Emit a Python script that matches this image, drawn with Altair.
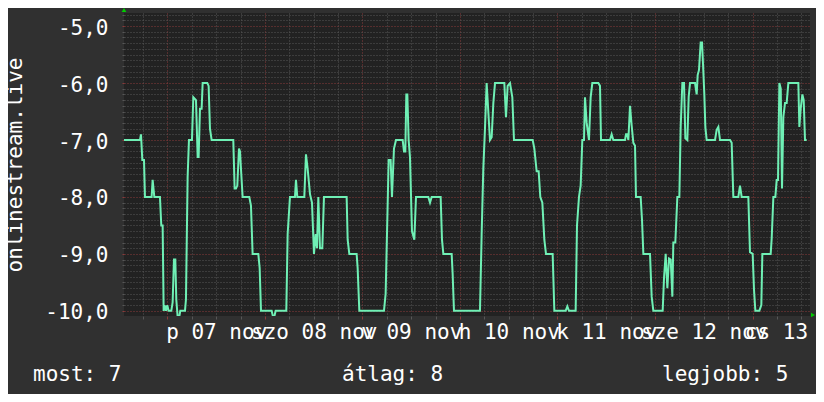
import altair as alt
import pandas as pd

# hours relative to Nov 07 00:00
hours = [
    -10.71, -6.77, -6.52, -6.19, -5.78, -5.54, -3.90, -3.65, -3.24, -1.85,
    -1.52, -1.19, -0.94, -0.70, -0.37, -0.04, 0.29, 0.94, 1.27, 1.60,
    1.93, 2.17, 2.50, 2.91, 3.16, 4.31, 4.55, 4.96, 5.29, 6.03,
    6.36, 7.02, 7.43, 7.67, 8.00, 8.41, 8.66, 9.80, 10.13, 10.46,
    10.87, 16.20, 16.53, 16.86, 17.19, 17.60, 17.85, 18.17, 18.50, 20.14,
    20.55, 20.96, 22.36, 22.69, 23.02, 25.64, 25.97, 26.30, 26.63, 29.25,
    29.58, 30.15, 31.38, 31.63, 31.96, 33.68, 34.09, 34.50, 35.08, 35.57,
    36.06, 36.47, 36.80, 37.13, 37.54, 38.11, 38.52, 44.10, 44.35, 44.76,
    46.56, 46.81, 47.22, 53.29, 53.70, 54.11, 54.44, 54.93, 55.26, 55.75,
    56.25, 57.89, 58.22, 58.54, 58.79, 59.04, 59.36, 59.69, 60.18, 60.76,
    61.17, 64.20, 64.62, 65.03, 67.24, 67.57, 67.90, 69.95, 70.19, 70.52,
    76.92, 77.33, 77.74, 78.15, 78.56, 78.97, 79.38, 79.80, 80.21, 80.62,
    82.91, 83.32, 83.73, 84.31, 84.88, 85.29, 89.89, 90.30, 90.87, 91.36,
    91.77, 92.27, 92.76, 93.17, 94.81, 95.22, 98.01, 98.42, 98.83, 100.47,
    100.80, 101.29, 101.70, 102.11, 102.52, 102.77, 103.18, 103.75, 104.16, 104.57,
    106.05, 106.46, 106.71, 108.92, 109.33, 109.74, 112.62, 112.86, 113.19, 113.44,
    113.85, 114.26, 114.67, 115.08, 115.32, 116.47, 116.80, 117.13, 118.77, 119.18,
    119.59, 121.89, 122.22, 122.63, 123.04, 123.45, 123.86, 124.27, 124.51, 125.00,
    125.50, 125.99, 126.32, 126.73, 127.14, 127.47, 127.96, 128.29, 128.62, 129.85,
    130.26, 130.50, 130.83, 131.24, 131.57, 131.82, 132.14, 132.39, 132.72, 134.77,
    135.18, 135.59, 136.00, 138.46, 138.87, 139.28, 140.51, 140.92, 141.33, 142.97,
    143.38, 144.04, 144.37, 144.70, 145.68, 146.17, 146.42, 148.47, 148.72, 149.13,
    149.62, 149.95, 150.28, 150.61, 150.95, 151.26, 151.59, 152.00, 152.41, 152.82,
    155.28, 155.53, 155.86, 156.27, 156.60, 156.92, 157.33,
]
values = [
    -7.0, -7.0, -6.9, -7.35, -7.35, -8.0, -8.0, -7.7, -8.0, -8.0,
    -8.5, -8.5, -10.0, -9.9, -10.0, -9.9, -10.0, -10.0, -9.85, -9.1,
    -9.1, -9.8, -10.1, -10.1, -10.0, -10.0, -9.8, -7.65, -7.0, -7.0,
    -6.25, -6.3, -7.3, -7.3, -6.45, -6.45, -6.0, -6.0, -6.05, -6.8,
    -7.0, -7.0, -7.85, -7.85, -7.8, -7.15, -7.2, -7.6, -8.0, -8.0,
    -8.15, -9.0, -9.0, -9.25, -10.0, -10.0, -10.1, -10.1, -10.0, -10.0,
    -8.65, -8.0, -8.0, -7.7, -8.0, -8.0, -7.25, -7.5, -7.95, -8.1,
    -9.0, -8.65, -8.9, -8.0, -8.9, -8.9, -8.0, -8.0, -8.75, -9.0,
    -9.0, -9.25, -10.0, -10.0, -9.7, -8.4, -7.35, -7.35, -8.0, -7.15,
    -7.0, -7.0, -7.2, -7.2, -6.2, -6.2, -7.0, -7.3, -8.6, -8.75,
    -8.0, -8.0, -8.1, -8.0, -8.0, -8.75, -9.0, -9.0, -9.35, -10.0,
    -10.0, -8.65, -7.5, -6.8, -6.0, -6.5, -7.0, -6.95, -6.35, -6.0,
    -6.0, -6.6, -6.05, -6.0, -6.25, -7.0, -7.0, -7.15, -7.55, -7.55,
    -8.0, -8.1, -8.75, -9.0, -9.0, -10.0, -10.0, -9.92, -10.0, -10.0,
    -8.5, -8.0, -7.8, -7.0, -7.0, -6.25, -6.7, -7.0, -6.25, -6.0,
    -6.0, -6.05, -7.0, -7.0, -6.9, -7.0, -7.0, -6.9, -6.9, -7.0,
    -6.4, -6.75, -7.05, -7.1, -8.0, -8.0, -8.4, -9.0, -9.0, -9.75,
    -10.0, -10.0, -9.42, -9.0, -9.6, -9.08, -9.1, -9.75, -8.8, -8.8,
    -8.0, -8.0, -6.77, -6.0, -6.0, -6.97, -7.0, -6.24, -6.0, -6.0,
    -6.2, -5.86, -5.77, -5.29, -5.29, -5.67, -6.2, -6.77, -7.0, -7.0,
    -6.82, -6.77, -7.0, -7.0, -7.05, -8.0, -8.0, -7.8, -8.0, -8.0,
    -8.97, -9.0, -9.63, -10.0, -10.0, -9.9, -9.0, -9.0, -8.73, -8.0,
    -8.0, -7.7, -7.7, -6.0, -6.1, -7.85, -6.6, -6.35, -6.35, -6.0,
    -6.0, -6.77, -6.45, -6.2, -6.3, -7.0, -7.0,
]

day_labels = ["p 07 nov", "szo 08 nov", "v 09 nov", "h 10 nov",
              "k 11 nov", "sze 12 nov", "cs 13 nov"]
label_hours = [12, 36, 60, 84, 108, 132, 156]
x_ticks = list(range(-6, 157, 6))
y_ticks = [round(-10 + i * 0.1, 1) for i in range(53)]
y_title = "onlinestream.live"
legend_texts = ["most: 7", "átlag: 8", "legjobb: 5"]

x_domain = [-10.7, 158.15]
y_domain = [-10.09, -4.77]

FONT = "DejaVu Sans Mono"
FS = 21
MAJOR = "#8a3a3a"
MINOR = "#575757"
LINE = "#6ff0b5"

df = pd.DataFrame({"h": hours, "v": values})

x_label_expr = "".join(
    f"datum.value == {h} ? '{t}' : " for h, t in zip(label_hours, day_labels)
) + "''"
x_major = "datum.value % 24 == 0"
y_major = "abs(datum.value - round(datum.value)) < 0.001"
y_label_expr = (
    f"({y_major}) ? ((datum.value < 0 ? '-' : '') + "
    "replace(format(abs(datum.value), '.1f'), '.', ',')) : ''"
)

x_axis = alt.Axis(
    values=x_ticks, labelExpr=x_label_expr, title=None,
    grid=True, gridDash=[1, 2], gridWidth=1,
    gridColor={"condition": {"test": x_major, "value": MAJOR}, "value": MINOR},
    tickColor={"condition": {"test": x_major, "value": MAJOR}, "value": MINOR},
    tickSize=3, domain=False, labelOverlap=False, labelFlush=False, labelBound=False,
    labelFont=FONT, labelFontSize=FS, labelColor="white",
    labelBaseline="alphabetic", labelPadding=19, labelAlign="center",
)
y_axis = alt.Axis(
    values=y_ticks, labelExpr=y_label_expr, title=y_title,
    grid=True, gridDash=[1, 2], gridWidth=1,
    gridColor={"condition": {"test": y_major, "value": MAJOR}, "value": MINOR},
    tickColor={"condition": {"test": y_major, "value": MAJOR}, "value": MINOR},
    tickSize=2, domain=False, labelOverlap=False, labelFlush=False, labelBound=False,
    labelFont=FONT, labelFontSize=FS, labelColor="white",
    labelBaseline="alphabetic", labelOffset=8, labelPadding=14,
    titleFont=FONT, titleFontSize=FS, titleColor="white", titleFontWeight="normal",
    titleAngle=-90, titleX=-109, titleY=151.5, titleAlign="center",
    titleBaseline="middle",
)

x_scale = alt.Scale(domain=x_domain, nice=False, zero=False)
y_scale = alt.Scale(domain=y_domain, nice=False, zero=False)

line = alt.Chart(df).mark_line(color=LINE, strokeWidth=2, clip=True).encode(
    x=alt.X("h:Q", scale=x_scale, axis=x_axis),
    y=alt.Y("v:Q", scale=y_scale, axis=y_axis),
)

# decorative axis arrows (plot-area pixel offsets)
arrow_up = alt.Chart().mark_point(
    shape="triangle-up", filled=True, size=22, color="#00cc00", opacity=1
).encode(x=alt.value(0), y=alt.value(-3))
arrow_right = alt.Chart().mark_point(
    shape="triangle-right", filled=True, size=22, color="#00cc00", opacity=1
).encode(x=alt.value(689), y=alt.value(302))

legend_x = [-91, 218, 538]
legend_layers = [
    alt.Chart().mark_text(
        text=t, font=FONT, fontSize=FS, color="white", align="left", baseline="alphabetic"
    ).encode(x=alt.value(px), y=alt.value(368))
    for t, px in zip(legend_texts, legend_x)
]

chart = alt.layer(line, arrow_up, arrow_right, *legend_layers).properties(
    width=686, height=303,
    padding={"left": 116, "top": 5, "right": 6, "bottom": 78},
    autosize=alt.AutoSizeParams(type="none"),
    background="#303030",
).configure_view(fill="#222222", stroke=None)

chart.save("out.html", embed_options={"renderer": "svg", "actions": False})
